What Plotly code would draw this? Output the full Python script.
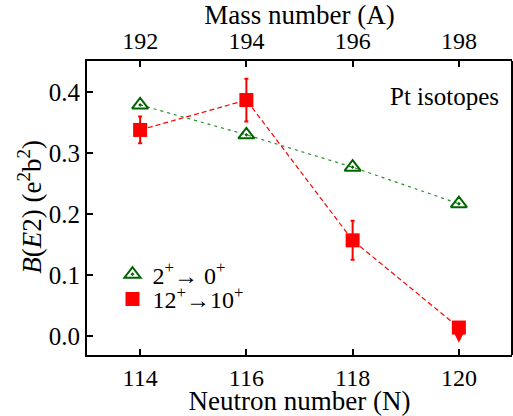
import plotly.graph_objects as go

# Data
neutron_N = [114, 116, 118, 120]
mass_A = [192, 194, 196, 198]
be2_2to0 = [0.379, 0.330, 0.277, 0.217]
be2_12to10 = [0.338, 0.387, 0.157, 0.014]
be2_12to10_err = [0.022, 0.035, 0.032, 0.0]
x_ticks = [114, 116, 118, 120]
y_ticks = [0.0, 0.1, 0.2, 0.3, 0.4]

FONT = "'Liberation Serif', 'Times New Roman', Times, serif"
GREEN = "#006400"
GREEN_LINE = "#2e8b2e"
RED = "#ff0000"

fig = go.Figure()

fig.add_trace(go.Scatter(x=neutron_N, y=be2_2to0, mode="lines",
                         line=dict(color=GREEN_LINE, width=1.2, dash="3px,4px"),
                         showlegend=False, hoverinfo="skip"))
fig.add_trace(go.Scatter(x=neutron_N, y=be2_12to10, mode="lines",
                         line=dict(color=RED, width=1.2, dash="5px,3px"),
                         showlegend=False, hoverinfo="skip"))

fig.add_trace(go.Scatter(x=neutron_N, y=be2_2to0, mode="markers",
                         name="2<sup>+</sup>\u2192 0<sup>+</sup>", legend="legend",
                         marker=dict(symbol="triangle-up-open-dot", size=14,
                                     color=GREEN, line=dict(width=2, color=GREEN))))
fig.add_trace(go.Scatter(x=neutron_N, y=be2_12to10, mode="markers",
                         name="12<sup>+</sup>\u219210<sup>+</sup>", legend="legend2",
                         marker=dict(symbol="square", size=14, color=RED),
                         error_y=dict(type="data", array=be2_12to10_err,
                                      color=RED, thickness=2, width=2)))

fig.add_annotation(x=neutron_N[-1], y=be2_12to10[-1] - 0.025,
                   ax=neutron_N[-1], ay=be2_12to10[-1],
                   xref="x", yref="y", axref="x", ayref="y",
                   showarrow=True, arrowhead=2, arrowsize=1, arrowwidth=2,
                   arrowcolor=RED, text="")

fig.add_trace(go.Scatter(x=neutron_N, y=be2_2to0, xaxis="x2", mode="markers",
                         marker=dict(opacity=0), showlegend=False, hoverinfo="skip"))

fig.add_annotation(text="Pt isotopes", xref="paper", yref="paper",
                   x=0.975, y=0.88, xanchor="right", yanchor="middle",
                   showarrow=False, font=dict(family=FONT, size=25, color="black"))

fig.add_annotation(text="<i>B</i>(<i>E</i>2) (e<sup>2</sup>b<sup>2</sup>)",
                   xref="paper", yref="paper", x=-0.136, y=0.505,
                   xanchor="center", yanchor="middle", textangle=-90,
                   showarrow=False, font=dict(family=FONT, size=27, color="black"))

axis_common = dict(showline=True, linecolor="black", linewidth=2, mirror=False,
                   ticks="inside", ticklen=6, tickwidth=2, tickcolor="black",
                   showgrid=False, zeroline=False, automargin=False)

x_tickfont = dict(family=FONT, size=24, color="black")
y_tickfont = dict(family=FONT, size=25, color="black")

legend_common = dict(xanchor="left", yanchor="top", bgcolor="rgba(0,0,0,0)",
                     font=dict(family=FONT, size=24, color="black"), itemwidth=30)

fig.update_layout(
    width=513, height=416,
    margin=dict(l=87, r=1, t=61, b=61),
    paper_bgcolor="white", plot_bgcolor="white",
    font=dict(family=FONT, color="black"),
    xaxis=dict(range=[113, 121], tickvals=x_ticks, tickfont=x_tickfont,
               title=dict(text="Neutron number (N)", font=dict(family=FONT, size=27), standoff=0),
               **axis_common),
    xaxis2=dict(range=[113, 121], overlaying="x", side="top", anchor="y",
                tickvals=x_ticks, ticktext=[str(a) for a in mass_A], tickfont=x_tickfont,
                title=dict(text="Mass number (A)", font=dict(family=FONT, size=27), standoff=0),
                **axis_common),
    yaxis=dict(range=[-0.031, 0.451], tickvals=y_ticks, tickformat=".1f",
               tickfont=y_tickfont, **axis_common),
    legend=dict(x=0.06, y=0.35, **legend_common),
    legend2=dict(x=0.06, y=0.266, **legend_common),
)

fig.add_shape(type="line", xref="paper", yref="paper", x0=1, x1=1, y0=0, y1=1,
              line=dict(color="black", width=2))

fig.write_html("out.html", config={"displayModeBar": False},
               post_script="document.body.style.margin='0';document.body.style.padding='0';")
